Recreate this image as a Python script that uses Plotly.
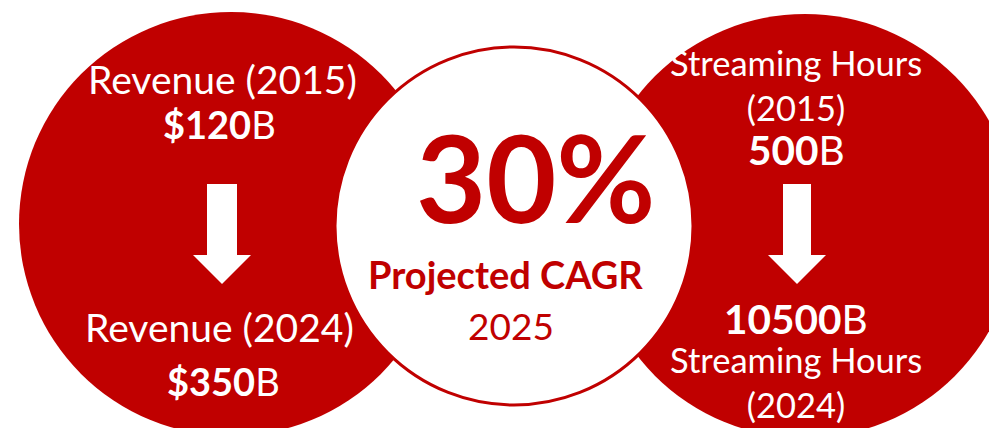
import plotly.graph_objects as go

RED = "#C00000"
FONT = "Lato"

# circle layout: (cx, cy, r)
circle_centers_x = [223, 797, 506]
circle_centers_y = [216, 218, 218]
circle_radius = [212, 212, 179]

# left circle - revenue
rev_labels = ["Revenue (2015)", "Revenue (2024)"]
rev_values = ["$120", "$350"]
rev_unit = "B"

# right circle - streaming hours
hours_labels = ["Streaming Hours<br>(2015)", "Streaming Hours<br>(2024)"]
hours_values = ["500", "10500"]
hours_unit = "B"

# middle
cagr_value = "30%"
cagr_label = "Projected CAGR"
cagr_year = "2025"


def arrow_path(cx, y0, y1, shaft_w, head_w, head_h):
    # down arrow from y0 to tip y1
    ys = y1 - head_h
    return (f"M {cx - shaft_w/2} {y0} L {cx + shaft_w/2} {y0} L {cx + shaft_w/2} {ys} "
            f"L {cx + head_w/2} {ys} L {cx} {y1} L {cx - head_w/2} {ys} "
            f"L {cx - shaft_w/2} {ys} Z")


fig = go.Figure()

shapes = []
for i in range(3):
    cx, cy, r = circle_centers_x[i], circle_centers_y[i], circle_radius[i]
    if i < 2:
        shapes.append(dict(type="circle", xref="x", yref="y", x0=cx - r, x1=cx + r,
                           y0=cy - r, y1=cy + r, fillcolor=RED, line=dict(width=0)))
    else:
        shapes.append(dict(type="circle", xref="x", yref="y", x0=cx - r, x1=cx + r,
                           y0=cy - r, y1=cy + r, fillcolor="white",
                           line=dict(color=RED, width=3)))

shapes.append(dict(type="path", path=arrow_path(214, 176, 276, 30, 58, 29),
                   fillcolor="white", line=dict(width=0)))
shapes.append(dict(type="path", path=arrow_path(789, 176, 276, 28, 58, 29),
                   fillcolor="white", line=dict(width=0)))

ann = []


def txt(x, y, text, size, color="white"):
    ann.append(dict(x=x, y=y, xref="x", yref="y", text=text, showarrow=False,
                    xanchor="center", yanchor="middle",
                    font=dict(family=FONT, size=size, color=color)))


# left
txt(214, 71, rev_labels[0], 39)
txt(211, 116, f"<b>{rev_values[0]}</b>{rev_unit}", 38)
txt(211, 319, rev_labels[1], 39)
txt(215, 373, f"<b>{rev_values[1]}</b>{rev_unit}", 38)

# middle
txt(528, 168, f"<b>{cagr_value}</b>", 121, RED)
txt(497, 266, f"<b>{cagr_label}</b>", 38, RED)
txt(503, 317, cagr_year, 37, RED)

# right
txt(788, 77, hours_labels[0], 34.5)
txt(788, 141, f"<b>{hours_values[0]}</b>{hours_unit}", 40.5)
txt(788, 310, f"<b>{hours_values[1]}</b>{hours_unit}", 40.5)
txt(788, 374, hours_labels[1], 34.5)

fig.update_layout(
    width=997, height=428,
    margin=dict(l=0, r=0, t=0, b=0),
    paper_bgcolor="white", plot_bgcolor="white",
    shapes=shapes, annotations=ann,
    xaxis=dict(range=[0, 997], visible=False, fixedrange=True),
    yaxis=dict(range=[428, 0], visible=False, fixedrange=True),
    showlegend=False,
)
fig.write_html("out.html")
